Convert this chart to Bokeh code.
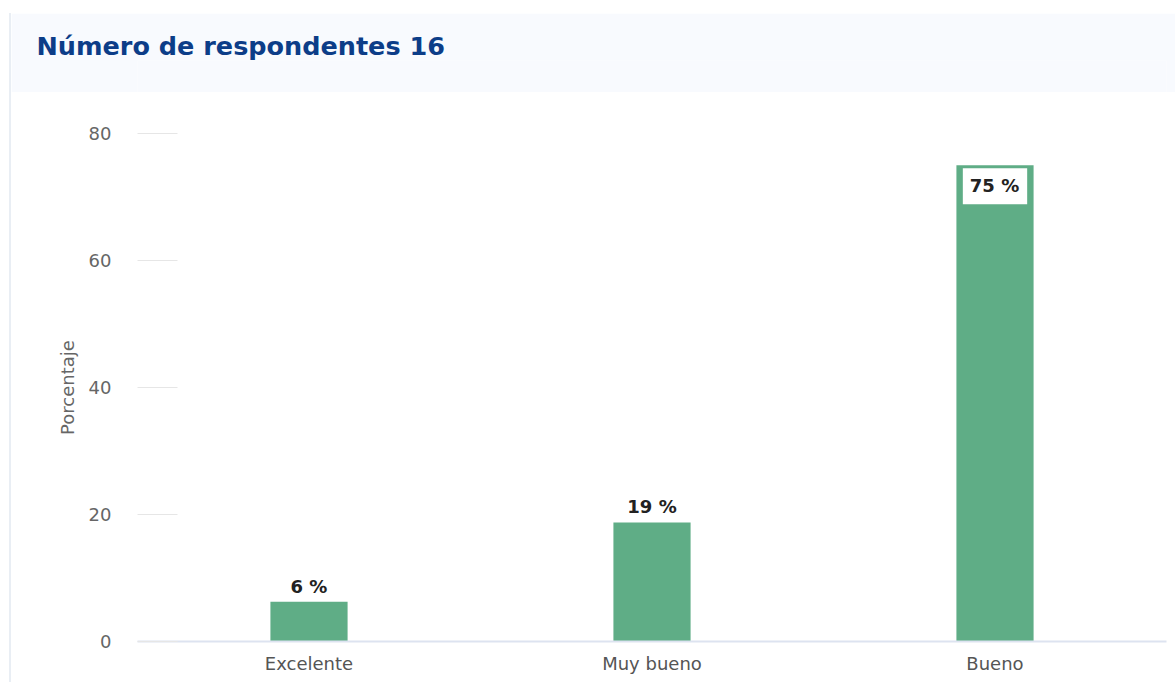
from bokeh.plotting import figure
from bokeh.models import ColumnDataSource, LabelSet, FactorRange, Range1d
from bokeh.core.properties import value
from bokeh.layouts import column
from bokeh.embed import file_html
from bokeh.resources import INLINE

# ---- data ----
title_text = "Número de respondentes 16"
categories = ["Excelente", "Muy bueno", "Bueno"]
values = [6.25, 18.75, 75.0]
labels = [f"{round(v)} %" for v in values]
y_ticks = [0, 20, 40, 60, 80]
y_axis_label = "Porcentaje"

FONT = "DejaVu Sans"
BAR_COLOR = "#5fad86"

W = 1164
LEFT = 126
RIGHT = 9

# ---- title band ----
top = figure(width=W, height=79, x_range=Range1d(0, 1), y_range=Range1d(0, 1),
             output_backend="svg", toolbar_location=None, title=title_text,
             min_border=0, min_border_left=LEFT, min_border_right=RIGHT,
             min_border_top=47, min_border_bottom=0)
top.axis.visible = False
top.grid.visible = False
top.outline_line_color = None
top.background_fill_color = "#f8fafe"
top.border_fill_color = "#f8fafe"
top.title.align = "left"
top.title.offset = 25 - LEFT
top.title.standoff = 0
top.title.text_font = FONT
top.title.text_font_style = "bold"
top.title.text_font_size = "25.5px"
top.title.text_color = "#0c3d88"

# ---- chart ----
p = figure(width=W, height=590, x_range=FactorRange(*categories, range_padding=0),
           y_range=Range1d(0, 80), output_backend="svg", toolbar_location=None,
           min_border_left=LEFT, min_border_right=RIGHT, min_border_top=41,
           min_border_bottom=41)
p.outline_line_color = None
p.grid.visible = False
p.background_fill_color = "white"
p.border_fill_color = "white"

src = ColumnDataSource(dict(cat=categories, val=values, lab=labels))
p.vbar(x="cat", top="val", width=0.225, source=src, fill_color=BAR_COLOR,
       line_color=None)

inside = [i for i, v in enumerate(values) if v > 60]
outside = [i for i, v in enumerate(values) if v <= 60]
src_out = ColumnDataSource(dict(cat=[categories[i] for i in outside],
                                val=[values[i] for i in outside],
                                lab=[labels[i] for i in outside]))
src_in = ColumnDataSource(dict(cat=[categories[i] for i in inside],
                               val=[values[i] for i in inside],
                               lab=[labels[i] for i in inside]))
p.add_layout(LabelSet(x="cat", y="val", text="lab", source=src_out,
                      text_align="center", text_baseline="bottom", y_offset=5,
                      text_font=value(FONT), text_font_style="bold",
                      text_font_size="18px", text_color="#222222"))
p.text(x="cat", y="val", text="lab", source=src_in,
       anchor="top_center", y_offset=3,
       text_font=value(FONT), text_font_style="bold",
       text_font_size="18px", text_color="#222222",
       background_fill_color="white", padding=[7, 8, 7, 8])

xa = p.xaxis[0]
xa.axis_line_color = "#dde3f0"
xa.axis_line_width = 2
xa.major_tick_line_color = None
xa.minor_tick_line_color = None
xa.major_label_text_font = FONT
xa.major_label_text_font_size = "18px"
xa.major_label_text_color = "#555555"
xa.major_label_standoff = 5

ya = p.yaxis[0]
ya.ticker = y_ticks
ya.axis_line_color = None
ya.major_tick_in = 40
ya.major_tick_out = 0
ya.major_tick_line_color = "#e6e6e6"
ya.minor_tick_line_color = None
ya.major_label_standoff = 26
ya.major_label_text_font = FONT
ya.major_label_text_font_size = "18px"
ya.major_label_text_color = "#666666"
ya.axis_label = y_axis_label
ya.axis_label_text_font = FONT
ya.axis_label_text_font_style = "normal"
ya.axis_label_text_font_size = "18px"
ya.axis_label_text_color = "#666666"
ya.axis_label_standoff = 8

layout = column(top, p, spacing=0, margin=(13, 0, 0, 9),
                styles={"border-left": "2px solid #e9eef4"})

open("out.html", "w").write(file_html(layout, INLINE))
